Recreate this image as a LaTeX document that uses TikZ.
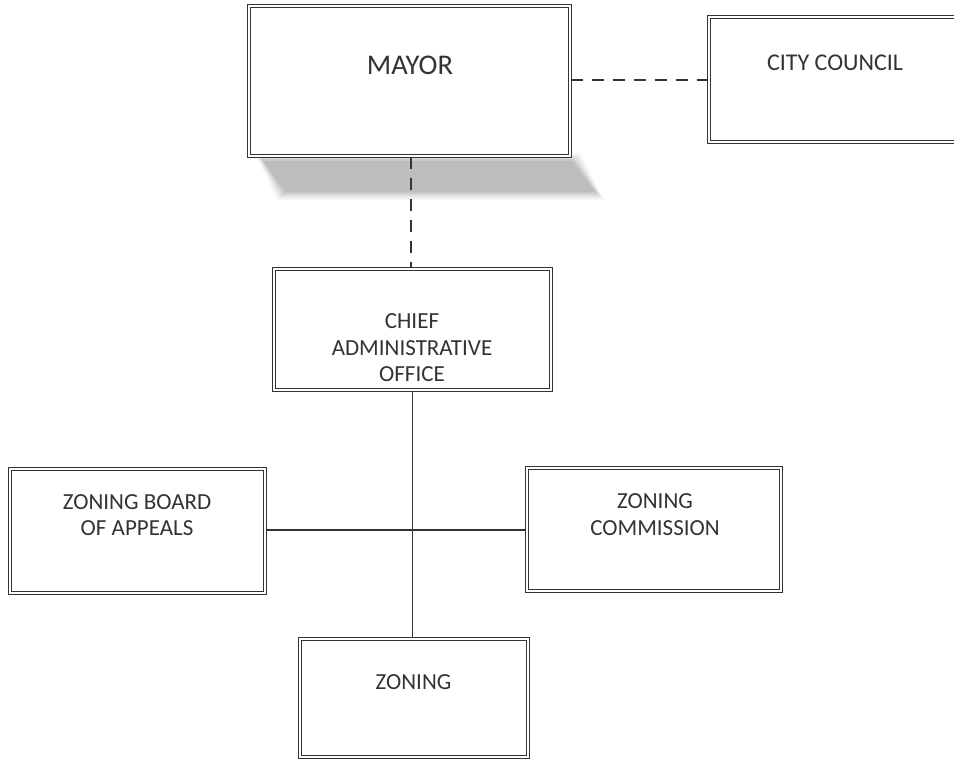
\documentclass[tikz,border=0pt]{standalone}
\usepackage{fontspec}
\setmainfont{Carlito}
\definecolor{ink}{HTML}{333333}
\definecolor{shadowgray}{HTML}{ACACAC}
\begin{document}
\begin{tikzpicture}[x=1pt,y=-1pt,
  box/.style={draw=ink, double=white, line width=1.2pt, double distance=1.6pt, fill=white, inner sep=0pt},
  lbl/.style={text=ink, font=\fontsize{23}{26.5}\selectfont, align=center, inner sep=0pt},
  conn/.style={draw=ink, line width=1.1pt},
  dashconn/.style={conn, dash pattern=on 12pt off 9pt}]
\useasboundingbox (0,0) rectangle (954,761);
\clip (0,0) rectangle (954,761);
\fill[white] (0,0) rectangle (954,761);
% shadow under MAYOR
\foreach \o/\op in {7/0.10,5/0.15,3/0.22,1/0.35,-1/0.45}{
  \fill[shadowgray, opacity=\op] (262-\o,160-\o) -- (573+\o,160-\o) -- (597+\o,193+\o) -- (284-\o,193+\o) -- cycle;
}
% boxes
\node[box, minimum width=321pt, minimum height=150pt] (mayor) at (409.5,81) {};
\node[box, minimum width=269pt, minimum height=125pt] (cc) at (843.5,79.5) {};
\node[box, minimum width=277pt, minimum height=121pt] (cao) at (412.5,329.5) {};
\node[box, minimum width=255pt, minimum height=124pt] (zba) at (137.5,531) {};
\node[box, minimum width=254pt, minimum height=123pt] (zc) at (654,529.5) {};
\node[box, minimum width=228pt, minimum height=118pt] (zoning) at (414,698) {};
% labels
\node[lbl, font=\fontsize{28.5}{32}\selectfont] (tmayor) at (410,65) {MAYOR};
\node[lbl, font=\fontsize{24}{27}\selectfont] (tcc) at (835,63) {CITY COUNCIL};
\node[lbl] (tcao) at (412,348) {CHIEF\\ADMINISTRATIVE\\OFFICE};
\node[lbl] (tzba) at (137,515) {ZONING BOARD\\OF APPEALS};
\node[lbl] (tzc) at (655,514.5) {ZONING\\COMMISSION};
\node[lbl] (tzoning) at (413.5,682) {ZONING};
% connectors
\draw[dashconn] (mayor.east |- 0,80) -- (cc.west |- 0,80);
\draw[dashconn] (mayor.south -| 411,0) -- (cao.north -| 411,0);
\draw[conn] (cao.south -| 412.5,0) -- (zoning.north -| 412.5,0);
\draw[conn] (zba.east |- 0,530) -- (zc.west |- 0,530);
\end{tikzpicture}
\end{document}
